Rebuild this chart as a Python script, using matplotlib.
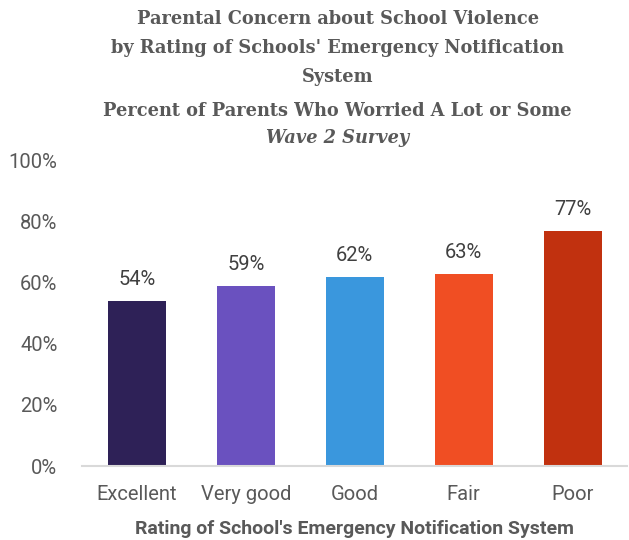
import matplotlib.pyplot as plt

categories = ["Excellent", "Very good", "Good", "Fair", "Poor"]
values = [54, 59, 62, 63, 77]
colors = ["#2E2157", "#6A51BF", "#3A97DD", "#F04E23", "#C1310F"]
yticks = [0, 20, 40, 60, 80, 100]

title = "Parental Concern about School Violence\nby Rating of Schools' Emergency Notification\nSystem"
subtitle = "Percent of Parents Who Worried A Lot or Some"
wave = "Wave 2 Survey"
xlabel = "Rating of School's Emergency Notification System"

grey = "#595959"

fig = plt.figure(figsize=(6.29, 5.4), dpi=100)
ax = fig.add_axes([0.131, 0.137, 0.866, 0.565])

x = range(len(categories))
bars = ax.bar(x, values, width=0.53, color=colors, zorder=2)
for b, v in zip(bars, values):
    ax.text(b.get_x() + b.get_width() / 2, v + 4, f"{v}%", ha="center", va="bottom",
            fontsize=14.5, family="Roboto", color="#404040")

ax.set_xlim(-0.5, len(categories) - 0.5)
ax.set_ylim(0, 100)
ax.set_yticks(yticks)
ax.set_yticklabels([f"{t}%" for t in yticks], fontsize=14.5, family="Roboto", color=grey)
ax.set_xticks(list(x))
ax.set_xticklabels(categories, fontsize=14.5, family="Roboto", color=grey)
ax.tick_params(axis="x", length=0, pad=14)
ax.tick_params(axis="y", length=0, pad=18)
for s in ["top", "right", "left"]:
    ax.spines[s].set_visible(False)
ax.spines["bottom"].set_color("#D9D9D9")
ax.spines["bottom"].set_linewidth(1.5)
ax.set_xlabel(xlabel, fontsize=14, family="Roboto", weight="bold", color=grey, labelpad=11)

tfont = dict(ha="center", fontsize=12.8, family="DejaVu Serif", weight="bold", color=grey)
fig.text(0.537, 0.982, title, va="top", linespacing=1.78, **tfont)
fig.text(0.537, 0.795, subtitle, va="center", **tfont)
fig.text(0.537, 0.745, wave, va="center", style="italic", **tfont)

fig.savefig("out.png", dpi=100)
